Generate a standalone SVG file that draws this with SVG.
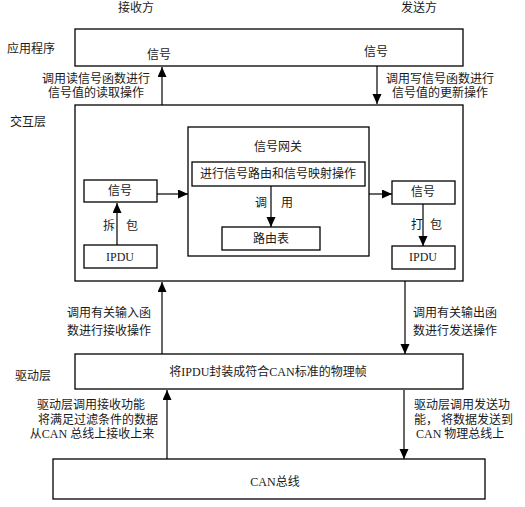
<svg xmlns="http://www.w3.org/2000/svg" width="525" height="507" viewBox="0 0 525 507">
<defs>
<marker id="ah" markerWidth="10" markerHeight="12" refX="10" refY="4.5" orient="auto" markerUnits="userSpaceOnUse">
<path d="M0,0 L10,4.5 L0,9 Z" fill="#000"/>
</marker>
<style>
text{font-family:"Liberation Serif","Noto Sans CJK SC",serif;font-size:12px;fill:#1a1a1a;text-anchor:middle;dominant-baseline:central}
.l{text-anchor:start}
.box{fill:#fff;stroke:#000;stroke-width:1.3}
.c{stroke:#000;stroke-width:1.2;fill:none;marker-end:url(#ah)}
</style>
</defs>
<rect width="525" height="507" fill="#fff"/>
<g id="headers">
<text x="136" y="8">接收方</text>
<text x="419" y="8">发送方</text>
<text x="31" y="49">应用程序</text>
<text x="28" y="122">交互层</text>
<text x="33" y="376">驱动层</text>
</g>
<g id="app">
<rect class="box" x="75" y="29" width="388" height="37"/>
<text x="159" y="55">信号</text>
<text x="376" y="52">信号</text>
</g>
<g id="interaction">
<rect class="box" x="75" y="105" width="388" height="176"/>
</g>
<g id="gateway">
<rect class="box" x="188" y="127" width="181" height="129"/>
<text x="278" y="147">信号网关</text>
</g>
<g id="mapping">
<rect class="box" x="192" y="162" width="173" height="24"/>
<text x="278" y="174">进行信号路由和信号映射操作</text>
</g>
<g id="routetable">
<rect class="box" x="222" y="227" width="98" height="23"/>
<text x="271" y="239">路由表</text>
</g>
<g id="sig-left">
<rect class="box" x="84" y="180" width="73" height="22"/>
<text x="120" y="191">信号</text>
</g>
<g id="ipdu-left">
<rect class="box" x="84" y="245" width="73" height="23"/>
<text x="120" y="257">IPDU</text>
</g>
<g id="sig-right">
<rect class="box" x="392" y="181" width="63" height="23"/>
<text x="423" y="192">信号</text>
</g>
<g id="ipdu-right">
<rect class="box" x="392" y="246" width="63" height="23"/>
<text x="423" y="257">IPDU</text>
</g>
<g id="driver">
<rect class="box" x="75" y="354" width="388" height="35"/>
<text x="268" y="372">将IPDU封装成符合CAN标准的物理帧</text>
</g>
<g id="canbus">
<rect class="box" x="53" y="459" width="432" height="40"/>
<text x="275" y="482">CAN总线</text>
</g>
<g id="connectors">
<line class="c" x1="162" y1="105" x2="162" y2="67"/>
<line class="c" x1="377" y1="66" x2="377" y2="104"/>
<line class="c" x1="157" y1="194" x2="188" y2="194"/>
<line class="c" x1="369" y1="194" x2="392" y2="194"/>
<line class="c" x1="117" y1="245" x2="117" y2="203"/>
<line class="c" x1="423" y1="204" x2="423" y2="246"/>
<line class="c" x1="271" y1="186" x2="271" y2="227"/>
<line class="c" x1="162" y1="354" x2="162" y2="282"/>
<line class="c" x1="405" y1="281" x2="405" y2="354"/>
<line class="c" x1="167" y1="459" x2="167" y2="390"/>
<line class="c" x1="404" y1="390" x2="404" y2="459"/>
</g>
<g id="labels">
<text x="96" y="79">调用读信号函数进行</text>
<text x="96" y="93">信号值的读取操作</text>
<text x="440" y="79">调用写信号函数进行</text>
<text x="440" y="93">信号值的更新操作</text>
<text x="109" y="226">拆</text>
<text x="132" y="226">包</text>
<text x="417" y="225">打</text>
<text x="436" y="225">包</text>
<text x="261" y="203">调</text>
<text x="287" y="203">用</text>
<text x="109" y="313">调用有关输入函</text>
<text x="109" y="331">数进行接收操作</text>
<text x="455" y="313">调用有关输出函</text>
<text x="455" y="331">数进行发送操作</text>
<text x="91" y="405">驱动层调用接收功能</text>
<text x="98" y="420">将满足过滤条件的数据</text>
<text x="92" y="434">从CAN 总线上接收上来</text>
<text class="l" x="414" y="405">驱动层调用发送功</text>
<text class="l" x="414" y="420">能， 将数据发送到</text>
<text class="l" x="416" y="434">CAN 物理总线上</text>
</g>
</svg>
